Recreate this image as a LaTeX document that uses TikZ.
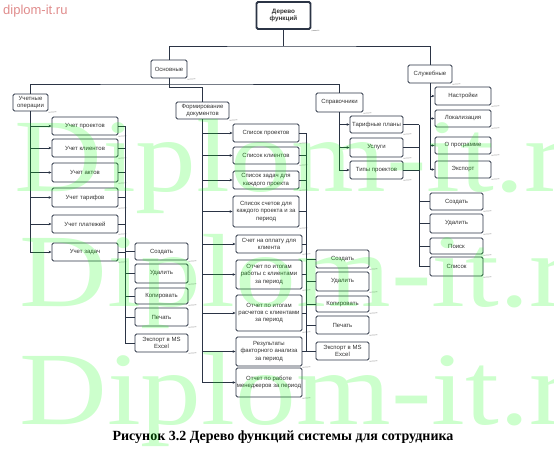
\documentclass[tikz,border=0pt]{standalone}
\usepackage{fontspec}
\setmainfont{Liberation Serif}
\newfontfamily\boxfont{Liberation Sans}
\newfontfamily\wmfont[FakeStretch=1.17]{Liberation Serif}
\usepackage{tikz}
\usetikzlibrary{positioning, arrows.meta, calc}
\definecolor{boxline}{HTML}{2B3445}
\definecolor{boxtext}{HTML}{333333}
\definecolor{sitepink}{HTML}{E08C8C}
\tikzset{
    fbox/.style={draw=boxline, line width=0.9pt, rounded corners=1.5pt, fill=white,
      text=boxtext, align=center, inner sep=0.5pt,
      font=\boxfont\fontsize{6}{7.4}\selectfont,
      append after command={($(\tikzlastnode.south east)+(0pt,-0.8pt)$) edge[shadowline] ($(\tikzlastnode.south east)+(8pt,-0.3pt)$)}},
    sz/.style 2 args={minimum width=#1, minimum height=#2},
    shadowline/.style={draw=gray!55, line width=0.7pt},
    conn/.style={draw=boxline, line width=0.9pt},
    arr/.style={conn, -{Stealth[length=3pt, width=2.6pt]}},
    wm/.style={font=\wmfont\fontsize{104}{104}\selectfont, text=green, text opacity=0.2, inner sep=0pt},
}

\begin{document}
\begin{tikzpicture}[x=1pt, y=-1pt]
    \tikzset{
      acct/.style={fbox, minimum width=66},
      docs/.style={fbox, minimum width=66},
      ops/.style={fbox, minimum width=53},
    }
    \useasboundingbox (0,0) rectangle (554,453);

    \node[anchor=base west, inner sep=0pt, text=sitepink, font=\boxfont\fontsize{13}{13}\selectfont] (site) at (3,14) {diplom-it.ru};

    \node[fbox, sz={54}{27}, line width=1.8pt, font=\boxfont\bfseries\fontsize{6.3}{7.8}\selectfont] (root) at (283.5,15.5) {Дерево\\функций};
    \node[fbox, sz={36}{18}] (osn) at (169,69) {Основные};
    \node[fbox, sz={44}{18}] (sluzh) at (430,74) {Служебные};
    \node[fbox, sz={35}{17}] (uchop) at (30.5,102.5) {Учетные\\операции};
    \node[fbox, sz={53}{17}] (form) at (202.5,110.5) {Формирование\\документов};
    \node[fbox, sz={47}{19}] (sprav) at (339.5,102.5) {Справочники};

    \node[acct, minimum height=18] (u1) at (85,126) {Учет проектов};
    \node[acct, minimum height=18] (u2) at (85,148) {Учет клиентов};
    \node[acct, minimum height=19] (u3) at (85,172.5) {Учет актов};
    \node[acct, minimum height=19] (u4) at (85,197.5) {Учет тарифов};
    \node[acct, minimum height=18] (u5) at (85,224) {Учет платежей};
    \node[acct, minimum height=18] (u6) at (85,252) {Учет задач};

    \node[ops, minimum height=17] (c1) at (161.5,251.5) {Создать};
    \node[ops, minimum height=19] (d1) at (161.5,273.5) {Удалить};
    \node[ops, minimum height=16] (k1) at (161.5,296) {Копировать};
    \node[ops, minimum height=18] (p1) at (161.5,317) {Печать};
    \node[ops, minimum height=18] (e1) at (161.5,343) {Экспорт в MS\\Excel};

    \node[docs, minimum height=18] (f1) at (266,133) {Список проектов};
    \node[docs, minimum height=17] (f2) at (266,155.5) {Список клиентов};
    \node[docs, minimum height=18] (f3) at (266,180) {Список задач для\\каждого проекта};
    \node[docs, minimum height=31] (f4) at (266,211.5) {Список счетов для\\каждого проекта и за\\период};
    \node[docs, minimum height=18] (f5) at (269,244) {Счет на оплату для\\клиента};
    \node[docs, minimum height=29] (f6) at (269,274.5) {Отчет по итогам\\работы с клиентами\\за период};
    \node[docs, minimum height=36] (f7) at (269,313) {Отчет по итогам\\расчетов с клиентами\\за период};
    \node[docs, minimum height=29] (f8) at (269,351.5) {Результаты\\факторного анализа\\за период};
    \node[docs, minimum height=29] (f9) at (269,382.5) {Отчет по работе\\менеджеров за период};

    \node[ops, minimum height=18] (c2) at (342.5,259) {Создать};
    \node[ops, minimum height=19] (d2) at (342.5,281.5) {Удалить};
    \node[ops, minimum height=16] (k2) at (342.5,304) {Копировать};
    \node[ops, minimum height=18] (p2) at (342.5,325) {Печать};
    \node[ops, minimum height=18] (e2) at (342.5,351) {Экспорт в MS\\Excel};

    \node[ops, minimum height=17] (s1) at (376.5,124.5) {Тарифные планы};
    \node[ops, minimum height=19] (s2) at (376.5,147.5) {Услуги};
    \node[ops, minimum height=18] (s3) at (376.5,170) {Типы проектов};

    \node[ops, minimum height=17] (c3) at (456.5,201.5) {Создать};
    \node[ops, minimum height=19] (d3) at (456.5,223.5) {Удалить};
    \node[ops, minimum height=16] (k3) at (456.5,246) {Поиск};
    \node[ops, minimum height=19] (l3) at (456.5,266.5) {Список};

    \node[ops, minimum width=56, minimum height=18] (n1) at (463,96) {Настройки};
    \node[ops, minimum width=56, minimum height=17] (n2) at (463,118.5) {Локализация};
    \node[ops, minimum width=56, minimum height=17] (n3) at (463,145.5) {О программе};
    \node[ops, minimum width=56, minimum height=17] (n4) at (463,169.5) {Экспорт};

    \coordinate (t0) at (283.5,46);
    \coordinate (t1) at (169,84);
    \coordinate (t2) at (169,87);
    \coordinate (b1) at (125,0);
    \coordinate (b2) at (306,0);
    \coordinate (b3) at (419,0);

    \draw[conn] (root) -- (root |- t0);
    \draw[conn] (osn) |- (t0) -| (sluzh);
    \draw[conn] (osn) -- (osn |- t2) -| (form);
    \draw[conn] (uchop) |- (t1) -| (sprav);

    \draw[arr] (uchop) |- (u1);
    \draw[arr] (uchop) |- (u2);
    \draw[arr] (uchop) |- (u3);
    \draw[arr] (uchop) |- (u4);
    \draw[arr] (uchop) |- (u5);
    \draw[arr] (uchop) |- (u6);

    \draw[conn] (u1 -| b1) -- (e1 -| b1);
    \draw[conn] (u1) -- (u1 -| b1);
    \draw[conn] (u2) -- (u2 -| b1);
    \draw[conn] (u3) -- (u3 -| b1);
    \draw[conn] (u4) -- (u4 -| b1);
    \draw[conn] (u5) -- (u5 -| b1);
    \draw[conn] (u6) -- (u6 -| b1);
    \draw[conn] (c1 -| b1) -- (c1);
    \draw[conn] (d1 -| b1) -- (d1);
    \draw[conn] (k1 -| b1) -- (k1);
    \draw[conn] (p1 -| b1) -- (p1);
    \draw[conn] (e1 -| b1) -- (e1);

    \draw[arr] (form) |- (f1);
    \draw[arr] (form) |- (f2);
    \draw[arr] (form) |- (f3);
    \draw[arr] (form) |- (f4);
    \draw[arr] (form) |- (f5);
    \draw[arr] (form) |- (f6);
    \draw[arr] (form) |- (f7);
    \draw[arr] (form) |- (f8);
    \draw[arr] (form) |- (f9);

    \draw[conn] (f1 -| b2) -- (e2 -| b2);
    \draw[conn] (f1) -- (f1 -| b2);
    \draw[conn] (f2) -- (f2 -| b2);
    \draw[conn] (f3) -- (f3 -| b2);
    \draw[conn] (f4) -- (f4 -| b2);
    \draw[conn] (f5) -- (f5 -| b2);
    \draw[conn] (f6) -- (f6 -| b2);
    \draw[conn] (f7) -- (f7 -| b2);
    \draw[conn] (f8) -- (f8 -| b2);
    \draw[conn] (c2 -| b2) -- (c2);
    \draw[conn] (d2 -| b2) -- (d2);
    \draw[conn] (k2 -| b2) -- (k2);
    \draw[conn] (p2 -| b2) -- (p2);
    \draw[conn] (e2 -| b2) -- (e2);

    \draw[arr] (sprav) |- (s1);
    \draw[arr] (sprav) |- (s2);
    \draw[arr] (sprav) |- (s3);

    \draw[conn] (s1 -| b3) -- (l3 -| b3);
    \draw[conn] (s1) -- (s1 -| b3);
    \draw[conn] (s2) -- (s2 -| b3);
    \draw[conn] (s3) -- (s3 -| b3);
    \draw[conn] (c3 -| b3) -- (c3);
    \draw[conn] (d3 -| b3) -- (d3);
    \draw[conn] (k3 -| b3) -- (k3);
    \draw[conn] (l3 -| b3) -- (l3);

    \draw[arr] (sluzh) |- (n1);
    \draw[arr] (sluzh) |- (n2);
    \draw[arr] (sluzh) |- (n3);
    \draw[arr] (sluzh) |- (n4);

    \node[font=\bfseries\fontsize{14}{16}\selectfont, inner sep=0pt] (cap) at (283,437) {Рисунок 3.2 Дерево функций системы для сотрудника};

    \node[wm, anchor=base west] (wm1) at (14,191) {Diplom-it.ru};
    \node[wm, anchor=base west] (wm2) at (19,306) {Diplom-it.ru};
    \node[wm, anchor=base west] (wm3) at (19,424) {Diplom-it.ru};
\end{tikzpicture}
\end{document}
